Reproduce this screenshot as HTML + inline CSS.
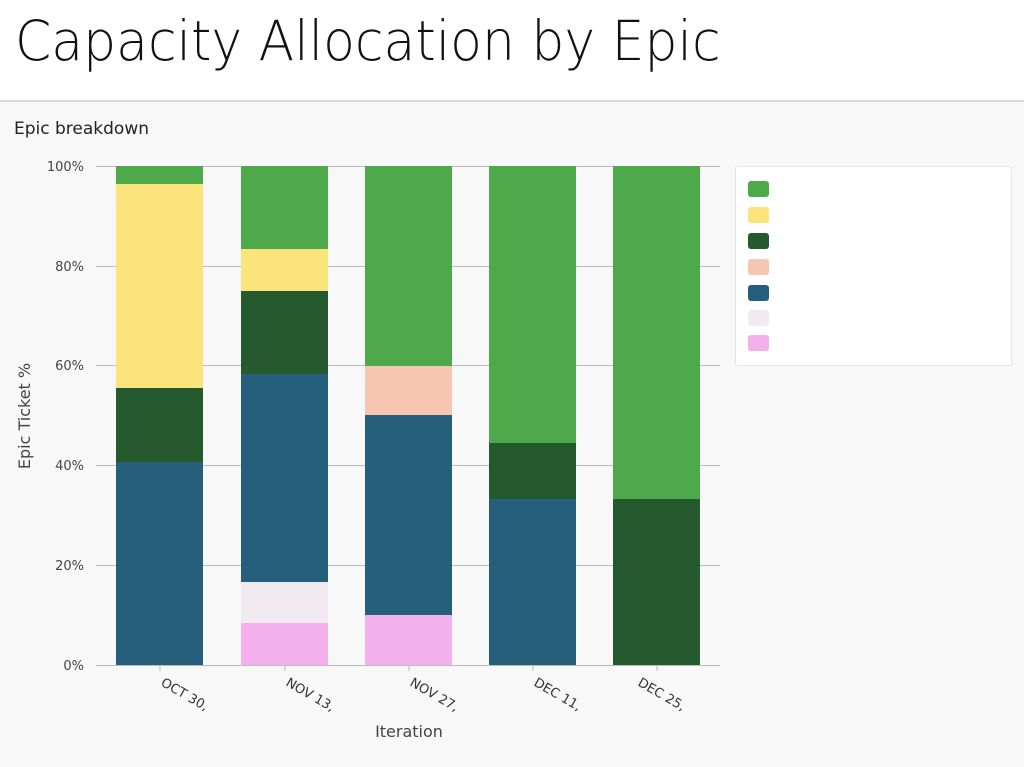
<!DOCTYPE html>
<html><head><style>
body{margin:0;width:1024px;height:767px;background:#f8f8f8;font-family:"DejaVu Sans","Liberation Sans",sans-serif;overflow:hidden;position:relative}
.hdr{position:absolute;left:0;top:0;width:1024px;height:100px;background:#fff;border-bottom:2px solid #d8d8d8}
.hdr div{position:absolute;left:15px;top:9px;font-size:55px;color:#111;font-weight:300;transform-origin:0 0;transform:scaleX(0.945);white-space:nowrap}
.sub{position:absolute;left:14px;top:119px;font-size:17px;color:#222}
</style></head><body>
<div class="hdr"><div>Capacity Allocation by Epic</div></div>
<div class="sub">Epic breakdown</div>
<svg width="1024" height="767" style="position:absolute;left:0;top:0" font-family="DejaVu Sans, Liberation Sans, sans-serif">
<g stroke="#bbb" stroke-width="1">
<line x1="96" y1="166.5" x2="720" y2="166.5"/><line x1="96" y1="266.5" x2="720" y2="266.5"/>
<line x1="96" y1="365.5" x2="720" y2="365.5"/><line x1="96" y1="465.5" x2="720" y2="465.5"/>
<line x1="96" y1="565.5" x2="720" y2="565.5"/>
</g>
<g font-size="13" fill="#444" text-anchor="end">
<text x="84" y="171">100%</text><text x="84" y="271">80%</text><text x="84" y="370">60%</text><text x="84" y="470">40%</text><text x="84" y="570">20%</text><text x="84" y="670">0%</text>
</g>
<rect x="116" y="166" width="87" height="18" fill="#4ea94b"/>
<rect x="116" y="184" width="87" height="204" fill="#fbe47b"/>
<rect x="116" y="388" width="87" height="74" fill="#245a2d"/>
<rect x="116" y="462" width="87" height="203" fill="#255f7c"/>
<rect x="241" y="166" width="87" height="83" fill="#4ea94b"/>
<rect x="241" y="249" width="87" height="42" fill="#fbe47b"/>
<rect x="241" y="291" width="87" height="83" fill="#245a2d"/>
<rect x="241" y="374" width="87" height="208" fill="#255f7c"/>
<rect x="241" y="582" width="87" height="41" fill="#f1ebf1"/>
<rect x="241" y="623" width="87" height="42" fill="#f3b0ec"/>
<rect x="365" y="166" width="87" height="200" fill="#4ea94b"/>
<rect x="365" y="366" width="87" height="49" fill="#f7c6b2"/>
<rect x="365" y="415" width="87" height="200" fill="#255f7c"/>
<rect x="365" y="615" width="87" height="50" fill="#f3b0ec"/>
<rect x="489" y="166" width="87" height="277" fill="#4ea94b"/>
<rect x="489" y="443" width="87" height="56" fill="#245a2d"/>
<rect x="489" y="499" width="87" height="166" fill="#255f7c"/>
<rect x="613" y="166" width="87" height="333" fill="#4ea94b"/>
<rect x="613" y="499" width="87" height="166" fill="#245a2d"/>
<line x1="96" y1="665.5" x2="720" y2="665.5" stroke="#bbb"/>
<g stroke="#bbb"><line x1="160" y1="665" x2="160" y2="671"/><line x1="285" y1="665" x2="285" y2="671"/><line x1="409" y1="665" x2="409" y2="671"/><line x1="533" y1="665" x2="533" y2="671"/><line x1="657" y1="665" x2="657" y2="671"/></g>
<g font-size="13" fill="#333">
<text transform="translate(160,685) rotate(30)">OCT 30,</text>
<text transform="translate(285,685) rotate(30)">NOV 13,</text>
<text transform="translate(409,685) rotate(30)">NOV 27,</text>
<text transform="translate(533,685) rotate(30)">DEC 11,</text>
<text transform="translate(637,685) rotate(30)">DEC 25,</text>
</g>
<text x="409" y="737" font-size="16" fill="#444" text-anchor="middle">Iteration</text>
<text transform="translate(30,416) rotate(-90)" font-size="16" fill="#444" text-anchor="middle">Epic Ticket %</text>
<rect x="735.5" y="166.5" width="276" height="199" fill="#fff" stroke="#e6e6e6" rx="2"/>
<rect x="748" y="181" width="21" height="16" rx="3" fill="#4ea94b"/>
<rect x="748" y="207" width="21" height="16" rx="3" fill="#fbe47b"/>
<rect x="748" y="233" width="21" height="16" rx="3" fill="#245a2d"/>
<rect x="748" y="259" width="21" height="16" rx="3" fill="#f7c6b2"/>
<rect x="748" y="285" width="21" height="16" rx="3" fill="#255f7c"/>
<rect x="748" y="310" width="21" height="16" rx="3" fill="#f1ebf1"/>
<rect x="748" y="335" width="21" height="16" rx="3" fill="#f3b0ec"/>
</svg>
</body></html>
